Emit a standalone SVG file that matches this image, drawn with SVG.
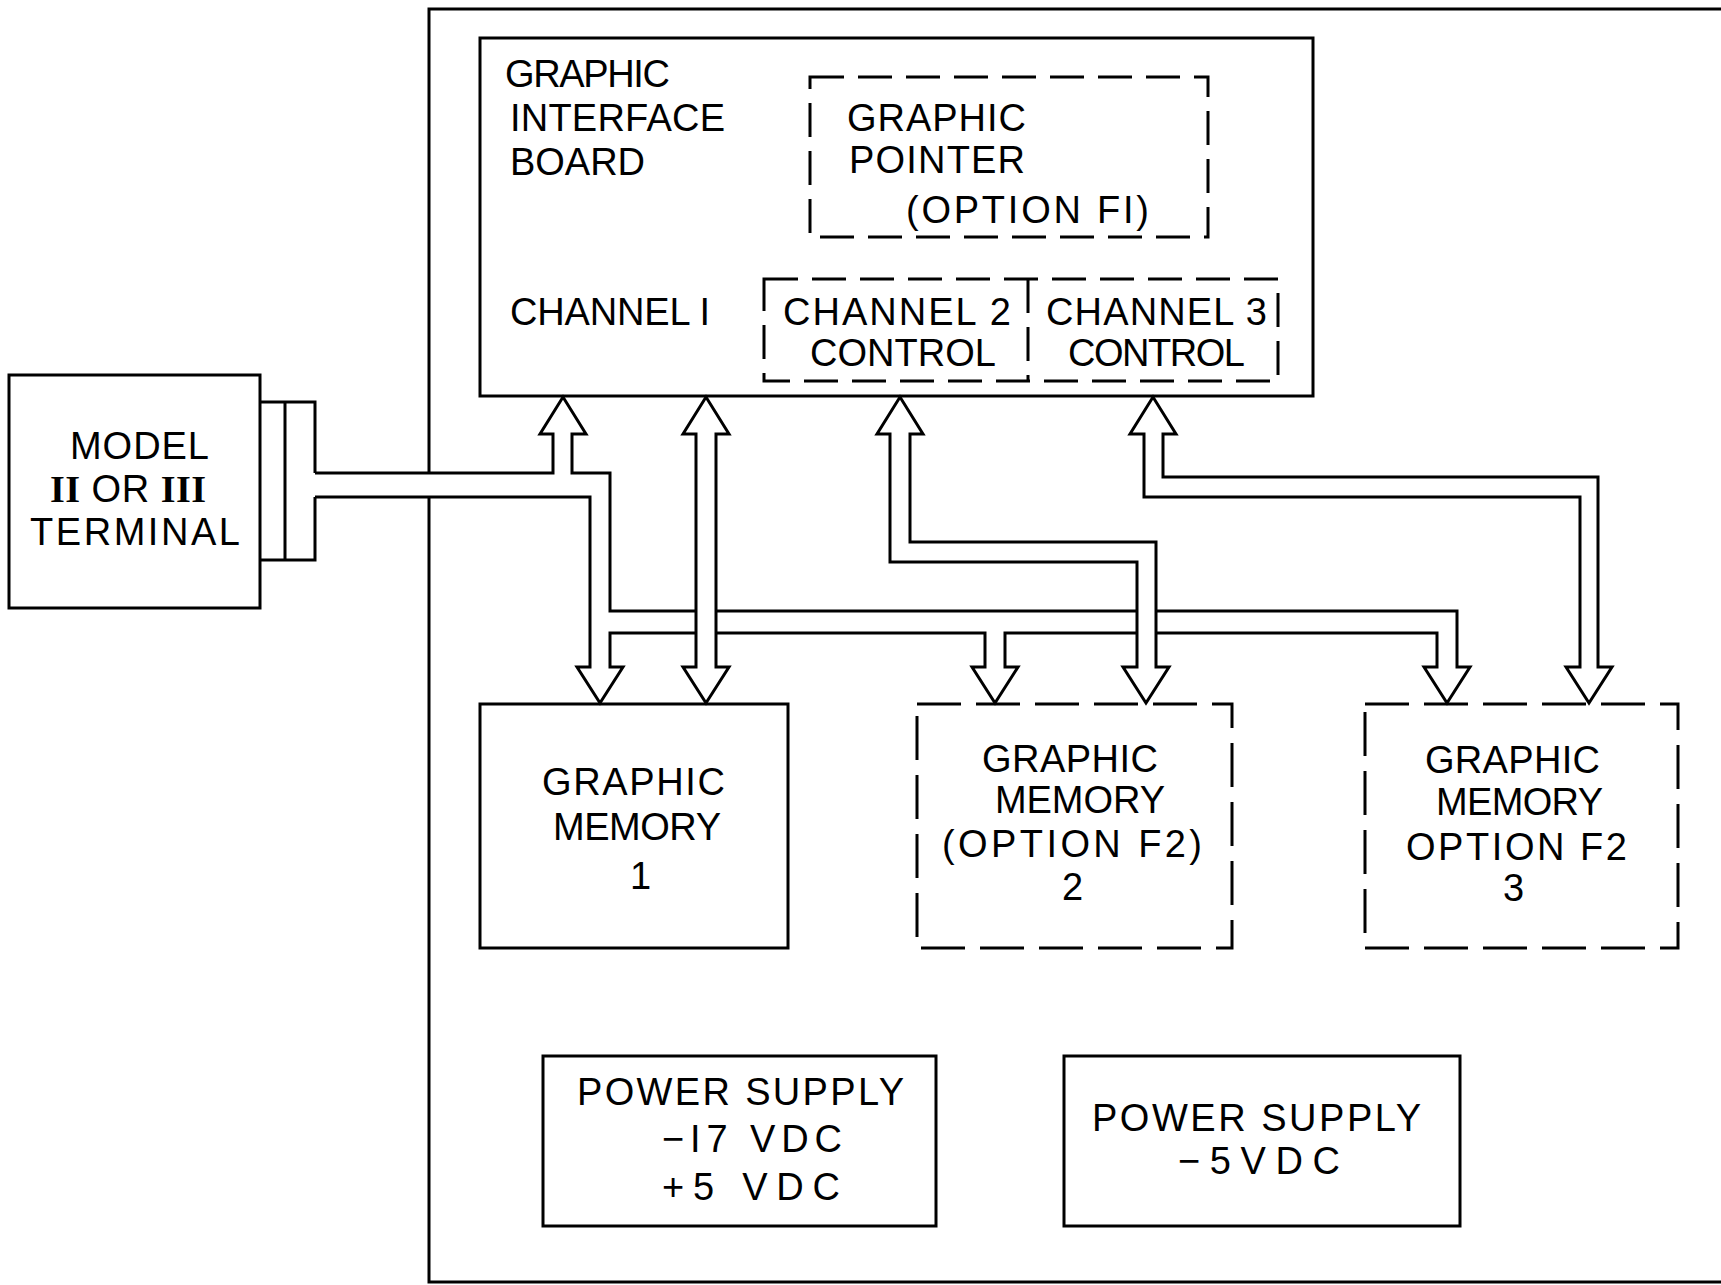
<svg xmlns="http://www.w3.org/2000/svg" width="1721" height="1285" viewBox="0 0 1721 1285">
<style>
.bx{fill:none;stroke:#000;stroke-width:3}
.dbx{fill:none;stroke:#000;stroke-width:3;stroke-dasharray:34 14}
.dbx2{fill:none;stroke:#000;stroke-width:3;stroke-dasharray:44 15}
.ln{fill:none;stroke:#000;stroke-width:3;stroke-linejoin:miter}
.t{font-family:"Liberation Sans",Arial,sans-serif;font-size:38px;fill:#000}
.r{font-family:"Liberation Serif","Times New Roman",serif;font-weight:bold}
</style>
<rect width="1721" height="1285" fill="#fff"/>

<g id="enclosure">
<path class="ln" d="M1721,9 H429 V473 M429,497 V1282 H1721"/>
</g>

<g id="terminal">
<rect class="bx" x="9" y="375" width="251" height="233"/>
<path class="ln" d="M260,402 H315 V473 M315,497 V560 H260 M285,402 V560"/>
<text class="t" x="70" y="459" textLength="139" lengthAdjust="spacing">MODEL</text>
<text class="t" x="50" y="502" textLength="156" lengthAdjust="spacing"><tspan class="r">II</tspan> OR <tspan class="r">III</tspan></text>
<text class="t" x="30" y="545" textLength="210" lengthAdjust="spacing">TERMINAL</text>
</g>

<g id="interface-board">
<rect class="bx" x="480" y="38" width="833" height="358"/>
<text class="t" x="505" y="87" textLength="165" lengthAdjust="spacing">GRAPHIC</text>
<text class="t" x="510" y="131" textLength="215" lengthAdjust="spacing">INTERFACE</text>
<text class="t" x="510" y="175" textLength="135" lengthAdjust="spacing">BOARD</text>
<text class="t" x="510" y="325" textLength="200" lengthAdjust="spacing">CHANNEL I</text>
</g>

<g id="graphic-pointer">
<rect class="dbx" x="810" y="77" width="398" height="160"/>
<text class="t" x="847" y="131" textLength="179" lengthAdjust="spacing">GRAPHIC</text>
<text class="t" x="849" y="173" textLength="176" lengthAdjust="spacing">POINTER</text>
<text class="t" x="906" y="223" textLength="243" lengthAdjust="spacing">(OPTION FI)</text>
</g>

<g id="channel-control">
<rect class="dbx" x="764" y="279" width="514" height="102"/>
<path class="dbx" d="M1028,279 V381"/>
<text class="t" x="783" y="325" textLength="228" lengthAdjust="spacing">CHANNEL 2</text>
<text class="t" x="810" y="366" textLength="186" lengthAdjust="spacing">CONTROL</text>
<text class="t" x="1046" y="325" textLength="221" lengthAdjust="spacing">CHANNEL 3</text>
<text class="t" x="1068" y="366" textLength="177" lengthAdjust="spacing">CONTROL</text>
</g>

<g id="memory-1">
<rect class="bx" x="480" y="704" width="308" height="244"/>
<text class="t" x="542" y="795" textLength="183" lengthAdjust="spacing">GRAPHIC</text>
<text class="t" x="553" y="840" textLength="168" lengthAdjust="spacing">MEMORY</text>
<text class="t" x="630" y="889">1</text>
</g>

<g id="memory-2">
<rect class="dbx2" x="917" y="704" width="315" height="244"/>
<text class="t" x="982" y="772" textLength="176" lengthAdjust="spacing">GRAPHIC</text>
<text class="t" x="995" y="813" textLength="170" lengthAdjust="spacing">MEMORY</text>
<text class="t" x="942" y="857" textLength="260" lengthAdjust="spacing">(OPTION F2)</text>
<text class="t" x="1062" y="900">2</text>
</g>

<g id="memory-3">
<rect class="dbx2" x="1365" y="704" width="313" height="244"/>
<text class="t" x="1425" y="773" textLength="175" lengthAdjust="spacing">GRAPHIC</text>
<text class="t" x="1436" y="815" textLength="167" lengthAdjust="spacing">MEMORY</text>
<text class="t" x="1406" y="860" textLength="221" lengthAdjust="spacing">OPTION F2</text>
<text class="t" x="1503" y="901">3</text>
</g>

<g id="power-supply-1">
<rect class="bx" x="543" y="1056" width="393" height="170"/>
<text class="t" x="577" y="1105" textLength="327" lengthAdjust="spacing">POWER SUPPLY</text>
<text class="t" x="662" y="1152" textLength="180" lengthAdjust="spacing">−I7 VDC</text>
<text class="t" x="662" y="1200" textLength="178" lengthAdjust="spacing">+5 VDC</text>
</g>

<g id="power-supply-2">
<rect class="bx" x="1064" y="1056" width="396" height="170"/>
<text class="t" x="1092" y="1131" textLength="329" lengthAdjust="spacing">POWER SUPPLY</text>
<text class="t" x="1178" y="1174" textLength="162" lengthAdjust="spacing">−5VDC</text>
</g>

<g id="connectors">
<path class="ln" d="M315,473 H553 V434 H540 L563,397 L586,434 H572 V473 H610 V611 H696"/>
<path class="ln" d="M315,497 H590 V667 H577 L600,703 L623,667 H610 V633 H696"/>
<path class="ln" d="M696,434 H683 L706,397 L729,434 H716 V667 H729 L706,703 L683,667 H696 Z"/>
<path class="ln" d="M716,611 H1137"/>
<path class="ln" d="M716,633 H985 V667 H972 L995,703 L1018,667 H1005 V633 H1137"/>
<path class="ln" d="M890,434 V562 H1137 V667 H1123 L1146,703 L1169,667 H1156 V542 H910 V434 H923 L900,397 L877,434 Z"/>
<path class="ln" d="M1156,611 H1457 V667 H1470 L1447,703 L1424,667 H1437 V633 H1156"/>
<path class="ln" d="M1144,434 V497 H1580 V667 H1566 L1589,703 L1612,667 H1598 V477 H1163 V434 H1176 L1153,397 L1130,434 Z"/>
</g>
</svg>
